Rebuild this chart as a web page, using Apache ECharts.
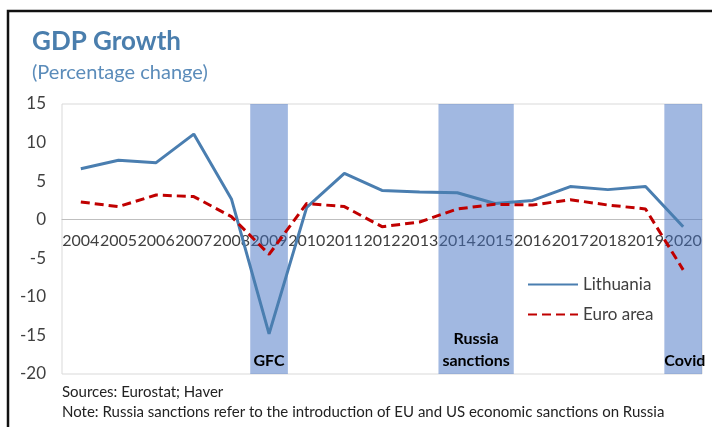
<head>
    <meta charset="utf-8"/>
    <style>body { margin: 0; }</style>
</head>
<div id="container" style="width:712px;height:427px;"></div>
<script src="https://cdn.jsdelivr.net/npm/echarts@6/dist/echarts.min.js"></script>
<script type="text/javascript">
    var years = ['2004', '2005', '2006', '2007', '2008', '2009', '2010', '2011', '2012',
        '2013', '2014', '2015', '2016', '2017', '2018', '2019', '2020'];
    var lithuania = [6.6, 7.7, 7.4, 11.1, 2.7, -14.8, 1.6, 6.0, 3.8, 3.6, 3.5, 2.1, 2.5, 4.3, 3.9, 4.3, -0.9];
    var euroArea = [2.3, 1.7, 3.2, 3.0, 0.4, -4.5, 2.1, 1.7, -0.9, -0.3, 1.4, 2.0, 1.9, 2.6, 1.9, 1.4, -6.5];
    var yTicks = [-20, -15, -10, -5, 0, 5, 10, 15];
    // shaded periods
    var shadeFrom = ['2009', '2014', '2020'];
    var shadeTo = ['2009', '2015', '2020'];
    var shadeNames = ['GFC', 'Russia\nsanctions', 'Covid'];

    var font = 'Lato, "Open Sans", sans-serif';
    var gridTop = 104, gridBottom = 53;
    var yMin = yTicks[0], yMax = yTicks[yTicks.length - 1];
    // move the category axis up onto the zero line
    var zeroOffset = -(427 - gridTop - gridBottom) * (0 - yMin) / (yMax - yMin);

    var shadeData = [];
    for (var i = 0; i < shadeFrom.length; i++) {
        shadeData.push([
            {
                name: shadeNames[i],
                xAxis: years.indexOf(shadeFrom[i]),
                label: i === 2 ? {position: 'insideBottomLeft', distance: 0, offset: [0, -2]} : {}
            },
            {xAxis: years.indexOf(shadeTo[i]) + 1}
        ]);
    }

    var myChart = echarts.init(document.getElementById('container'));
    var option = {
        animation: false,
        title: {
            text: 'GDP Growth',
            subtext: '(Percentage change)',
            left: 27,
            top: 24,
            itemGap: 8,
            textStyle: {fontFamily: font, fontSize: 26, fontWeight: 'bold', color: '#4A7EAD'},
            subtextStyle: {fontFamily: font, fontSize: 20, color: '#5B8CBA'}
        },
        legend: {
            orient: 'vertical',
            left: 522,
            top: 271,
            itemWidth: 50,
            itemHeight: 3,
            itemGap: 13,
            itemStyle: {opacity: 0},
            textStyle: {fontFamily: font, fontSize: 17, color: '#404040'},
            data: ['Lithuania', 'Euro area']
        },
        grid: {
            left: 62, right: 10, top: gridTop, bottom: gridBottom,
            show: true, borderColor: '#D9D9D9', borderWidth: 1
        },
        xAxis: [{
            type: 'category',
            data: years,
            position: 'bottom',
            offset: zeroOffset,
            axisLine: {onZero: false, lineStyle: {color: '#BFBFBF', width: 1}},
            axisTick: {inside: true, length: 5, interval: 0, lineStyle: {color: '#BFBFBF'}},
            axisLabel: {interval: 0, margin: 13, fontFamily: font, fontSize: 16, color: '#404040'}
        }, {
            type: 'value', min: 0, max: years.length, show: false
        }],
        yAxis: {
            type: 'value',
            min: yMin,
            max: yMax,
            interval: 5,
            splitLine: {show: false},
            axisLine: {show: false, onZero: false},
            axisTick: {show: false},
            axisLabel: {margin: 16, fontFamily: font, fontSize: 17, color: '#404040'}
        },
        series: [
            {
                name: 'Lithuania',
                type: 'line',
                data: lithuania,
                symbol: 'none',
                z: 2,
                lineStyle: {color: '#4A7EB0', width: 3},
                itemStyle: {color: '#4A7EB0'}
            },
            {
                name: 'Euro area',
                type: 'line',
                data: euroArea,
                symbol: 'none',
                z: 2,
                lineStyle: {color: '#C00000', width: 3, type: [9, 5]},
                itemStyle: {color: '#C00000'}
            },
            {
                name: 'shade',
                type: 'line',
                xAxisIndex: 1,
                data: [],
                z: 5,
                markArea: {
                    silent: true,
                    itemStyle: {color: '#4472C4', opacity: 0.5},
                    label: {
                        position: 'insideBottom',
                        distance: 2,
                        fontFamily: font,
                        fontSize: 16,
                        fontWeight: 'bold',
                        color: '#000',
                        lineHeight: 22
                    },
                    data: shadeData
                }
            }
        ],
        graphic: [
            {
                type: 'rect',
                shape: {x: 8, y: 11, width: 720, height: 430},
                style: {fill: 'none', stroke: '#111', lineWidth: 2.5},
                silent: true
            },
            {
                type: 'text', left: 62, top: 385,
                style: {text: 'Sources: Eurostat; Haver', font: '15px ' + font, fill: '#222'}
            },
            {
                type: 'text', left: 62, top: 405,
                style: {
                    text: 'Note: Russia sanctions refer to the introduction of EU and US economic sanctions on Russia',
                    font: '15px ' + font, fill: '#222'
                }
            }
        ]
    };
    myChart.setOption(option, true);
</script>
